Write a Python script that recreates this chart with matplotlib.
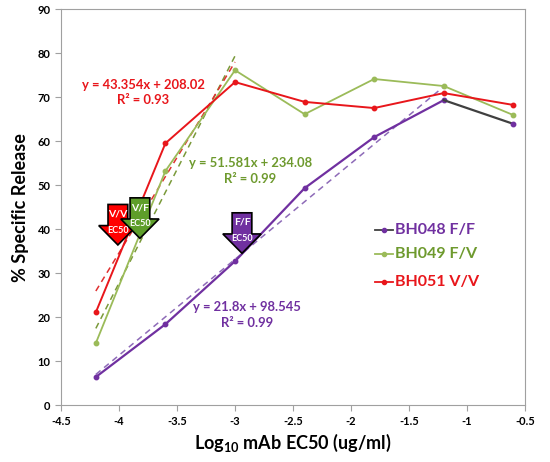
import numpy as np
import matplotlib
matplotlib.use('Agg')
import matplotlib.pyplot as plt
from matplotlib.patches import Polygon
from matplotlib.ticker import FormatStrFormatter

plt.rcParams['font.family'] = ['Lato', 'DejaVu Sans']
plt.rcParams['mathtext.fontset'] = 'custom'
plt.rcParams['mathtext.rm'] = 'Lato'
plt.rcParams['mathtext.bf'] = 'Lato:bold'

# data
log_ec50 = [-4.2, -3.6, -3.0, -2.4, -1.8, -1.2, -0.6]
bh048 = [6.4, 18.4, 32.7, 49.3, 60.9, 69.3, 63.9]
bh049 = [14.1, 53.2, 76.1, 66.1, 74.1, 72.5, 65.9]
bh051 = [21.1, 59.5, 73.4, 68.9, 67.5, 70.9, 68.2]

# trendline coefficients (slope, intercept) and fit ranges
fit048 = (21.8, 98.545, -4.2, -1.2)
fit049 = (51.581, 234.08, -4.2, -3.0)
fit051 = (43.354, 208.02, -4.2, -3.0)

purple = '#7030A0'
green_line = '#9BBB59'
green_txt = '#6E9A2E'
red = '#E8161B'

fig = plt.figure(figsize=(5.5, 4.62), dpi=100)
ax = fig.add_axes([0.111, 0.123, 0.8435, 0.8575])

# trendlines
for (m, b, x0, x1), c in [(fit048, '#8E6BB8'), (fit049, '#7A9A3A'), (fit051, '#E03030')]:
    xx = np.array([x0, x1])
    ax.plot(xx, m * xx + b, ls=(0, (4, 3)), color=c, lw=1.1, zorder=2)

ax.plot(log_ec50[:6], bh048[:6], color=purple, lw=1.6, marker='o', ms=3.2, zorder=3)
ax.plot(log_ec50[5:], bh048[5:], color='#404040', lw=1.6, zorder=3)
ax.plot(log_ec50[6:], bh048[6:], color=purple, marker='o', ms=3.2, ls='none', zorder=3)
ax.plot(log_ec50, bh049, color=green_line, lw=1.3, marker='o', ms=3.2, zorder=3)
ax.plot(log_ec50, bh051, color=red, lw=1.4, marker='o', ms=3.2, zorder=3)

ax.set_xlim(-4.5, -0.5)
ax.set_ylim(0, 90)
ax.set_xticks(np.arange(-4.5, -0.49, 0.5))
ax.set_yticks(np.arange(0, 91, 10))
ax.xaxis.set_major_formatter(FormatStrFormatter('%g'))
for s in ax.spines.values():
    s.set_color('#A0A0A0')
ax.tick_params(colors='#A0A0A0', labelcolor='black', labelsize=8, length=4)
for lbl in ax.get_xticklabels() + ax.get_yticklabels():
    lbl.set_fontweight('bold')

ax.set_ylabel('% Specific Release', fontsize=13, fontweight='bold', labelpad=6)
ax.set_xlabel(r'Log$_{\mathbf{10}}$ mAb EC50 (ug/ml)', fontsize=13, fontweight='bold', labelpad=4)

# equations
ax.text(-3.79, 71.0, 'y = 43.354x + 208.02\nR² = 0.93', color=red, fontsize=9.4,
        fontweight='bold', ha='center', va='center', linespacing=1.35)
ax.text(-2.87, 53.2, 'y = 51.581x + 234.08\nR² = 0.99', color=green_txt, fontsize=9.4,
        fontweight='bold', ha='center', va='center', linespacing=1.35)
ax.text(-2.9, 20.5, 'y = 21.8x + 98.545\nR² = 0.99', color=purple, fontsize=9.4,
        fontweight='bold', ha='center', va='center', linespacing=1.35)

# EC50 arrows
def ec50_arrow(xc, ytip, col, label):
    hw, bw = 0.165, 0.085   # half widths (x units)
    hh, bh = 4.4, 4.8       # head height, body height
    pts = [(xc - bw, ytip + hh + bh), (xc + bw, ytip + hh + bh), (xc + bw, ytip + hh),
           (xc + hw, ytip + hh), (xc, ytip), (xc - hw, ytip + hh), (xc - bw, ytip + hh)]
    ax.add_patch(Polygon(pts, closed=True, fc=col, ec='black', lw=1.2, zorder=5))
    ax.text(xc, ytip + hh + bh / 2 + 0.2, label, color='white', fontsize=7.5, fontweight='bold',
            ha='center', va='center', zorder=6)
    ax.text(xc, ytip + hh - 1.1, 'EC50', color='white', fontsize=6.5, fontweight='bold',
            ha='center', va='center', zorder=6)

ec50_arrow(-4.01, 36.4, '#FF0000', 'V/V')
ec50_arrow(-3.82, 37.9, '#5E9E2A', 'V/F')
ec50_arrow(-2.94, 34.5, '#7030A0', 'F/F')

# legend
lx = -1.62
for y, name, lc, mc, tc in [(39.8, 'BH048 F/F', '#404040', purple, purple),
                            (34.3, 'BH049 F/V', green_line, green_line, green_txt),
                            (28.0, 'BH051 V/V', red, red, red)]:
    ax.plot([lx - 0.17, lx - 0.02], [y, y], color=lc, lw=1.3, zorder=4)
    ax.plot([lx - 0.095], [y], color=mc, marker='o', ms=3, zorder=4)
    ax.text(lx, y, name, color=tc, fontsize=11.5, fontweight='bold', va='center', ha='left')

fig.savefig('out.png', dpi=100)
